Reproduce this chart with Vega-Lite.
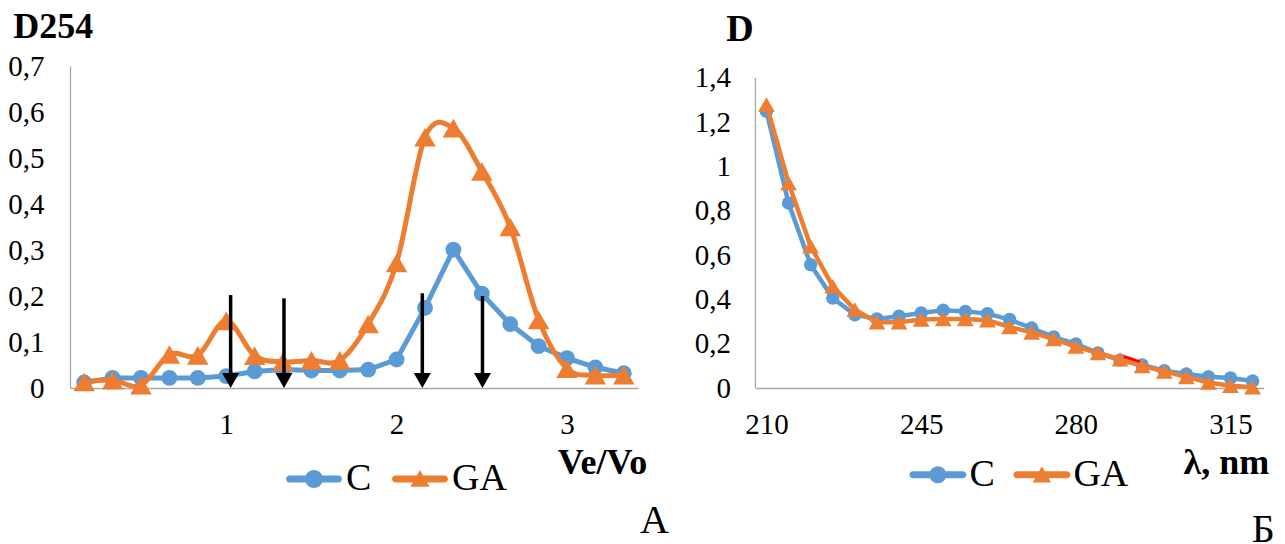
{
  "$schema": "https://vega.github.io/schema/vega-lite/v6.json",
  "background": "white",
  "padding": {"left": 7, "top": 8, "right": 0, "bottom": 0},
  "config": {
    "font": "Liberation Serif",
    "view": {"stroke": null},
    "axis": {"grid": false, "ticks": false, "tickSize": 0, "domainColor": "#A6A6A6", "domainWidth": 1.3, "labelFont": "Liberation Serif", "labelFontSize": 29, "labelColor": "#000000", "titleFont": "Liberation Serif", "titleColor": "#000000"},
    "legend": {"labelFont": "Liberation Serif", "labelColor": "#000000"}
  },
  "resolve": {"scale": {"color": "independent"}, "legend": {"color": "independent"}},
  "datasets": {
    "left": [
      {"x": 0.1667, "y": 0.012, "series": "C"}, {"x": 0.3333, "y": 0.022, "series": "C"}, {"x": 0.5, "y": 0.022, "series": "C"}, {"x": 0.6667, "y": 0.022, "series": "C"}, {"x": 0.8333, "y": 0.022, "series": "C"},
      {"x": 1.0, "y": 0.026, "series": "C"}, {"x": 1.1667, "y": 0.036, "series": "C"}, {"x": 1.3333, "y": 0.04, "series": "C"}, {"x": 1.5, "y": 0.038, "series": "C"}, {"x": 1.6667, "y": 0.038, "series": "C"},
      {"x": 1.8333, "y": 0.04, "series": "C"}, {"x": 2.0, "y": 0.062, "series": "C"}, {"x": 2.1667, "y": 0.174, "series": "C"}, {"x": 2.3333, "y": 0.301, "series": "C"}, {"x": 2.5, "y": 0.205, "series": "C"},
      {"x": 2.6667, "y": 0.139, "series": "C"}, {"x": 2.8333, "y": 0.091, "series": "C"}, {"x": 3.0, "y": 0.065, "series": "C"}, {"x": 3.1667, "y": 0.045, "series": "C"}, {"x": 3.3333, "y": 0.032, "series": "C"},
      {"x": 0.1667, "y": 0.013, "series": "GA"}, {"x": 0.3333, "y": 0.017, "series": "GA"}, {"x": 0.5, "y": 0.006, "series": "GA"}, {"x": 0.6667, "y": 0.073, "series": "GA"}, {"x": 0.8333, "y": 0.071, "series": "GA"},
      {"x": 1.0, "y": 0.146, "series": "GA"}, {"x": 1.1667, "y": 0.07, "series": "GA"}, {"x": 1.3333, "y": 0.057, "series": "GA"}, {"x": 1.5, "y": 0.06, "series": "GA"}, {"x": 1.6667, "y": 0.06, "series": "GA"},
      {"x": 1.8333, "y": 0.139, "series": "GA"}, {"x": 2.0, "y": 0.272, "series": "GA"}, {"x": 2.1667, "y": 0.545, "series": "GA"}, {"x": 2.3333, "y": 0.565, "series": "GA"}, {"x": 2.5, "y": 0.471, "series": "GA"},
      {"x": 2.6667, "y": 0.35, "series": "GA"}, {"x": 2.8333, "y": 0.148, "series": "GA"}, {"x": 3.0, "y": 0.042, "series": "GA"}, {"x": 3.1667, "y": 0.028, "series": "GA"}, {"x": 3.3333, "y": 0.028, "series": "GA"}
    ],
    "arrows": [
      {"x": 1.026, "y": 0.202},
      {"x": 1.339, "y": 0.195},
      {"x": 2.151, "y": 0.206},
      {"x": 2.504, "y": 0.2}
    ],
    "right": [
      {"x": 210, "y": 1.25, "series": "C"}, {"x": 215, "y": 0.835, "series": "C"}, {"x": 220, "y": 0.557, "series": "C"}, {"x": 225, "y": 0.406, "series": "C"}, {"x": 230, "y": 0.331, "series": "C"},
      {"x": 235, "y": 0.312, "series": "C"}, {"x": 240, "y": 0.324, "series": "C"}, {"x": 245, "y": 0.339, "series": "C"}, {"x": 250, "y": 0.351, "series": "C"}, {"x": 255, "y": 0.346, "series": "C"},
      {"x": 260, "y": 0.336, "series": "C"}, {"x": 265, "y": 0.309, "series": "C"}, {"x": 270, "y": 0.271, "series": "C"}, {"x": 275, "y": 0.23, "series": "C"}, {"x": 280, "y": 0.199, "series": "C"},
      {"x": 285, "y": 0.158, "series": "C"}, {"x": 290, "y": 0.126, "series": "C"}, {"x": 295, "y": 0.104, "series": "C"}, {"x": 300, "y": 0.078, "series": "C"}, {"x": 305, "y": 0.063, "series": "C"},
      {"x": 310, "y": 0.051, "series": "C"}, {"x": 315, "y": 0.045, "series": "C"}, {"x": 320, "y": 0.032, "series": "C"},
      {"x": 210, "y": 1.28, "series": "GA"}, {"x": 215, "y": 0.926, "series": "GA"}, {"x": 220, "y": 0.64, "series": "GA"}, {"x": 225, "y": 0.459, "series": "GA"}, {"x": 230, "y": 0.354, "series": "GA"},
      {"x": 235, "y": 0.297, "series": "GA"}, {"x": 240, "y": 0.297, "series": "GA"}, {"x": 245, "y": 0.309, "series": "GA"}, {"x": 250, "y": 0.312, "series": "GA"}, {"x": 255, "y": 0.312, "series": "GA"},
      {"x": 260, "y": 0.306, "series": "GA"}, {"x": 265, "y": 0.276, "series": "GA"}, {"x": 270, "y": 0.251, "series": "GA"}, {"x": 275, "y": 0.221, "series": "GA"}, {"x": 280, "y": 0.187, "series": "GA"},
      {"x": 285, "y": 0.158, "series": "GA"}, {"x": 290, "y": 0.13, "series": "GA"}, {"x": 295, "y": 0.099, "series": "GA"}, {"x": 300, "y": 0.075, "series": "GA"}, {"x": 305, "y": 0.05, "series": "GA"},
      {"x": 310, "y": 0.025, "series": "GA"}, {"x": 315, "y": 0.01, "series": "GA"}, {"x": 320, "y": 0.003, "series": "GA"}
    ],
    "red": [
      {"x": 290.8, "y": 0.138},
      {"x": 294.4, "y": 0.114}
    ]
  },
  "bounds": "flush",
  "spacing": 117.4,
  "hconcat": [
    {
      "width": 568,
      "height": 322,
      "title": {"text": "А", "orient": "bottom", "anchor": "end", "frame": "group", "fontSize": 40, "fontWeight": "normal", "font": "Liberation Serif", "color": "#000000", "baseline": "alphabetic", "offset": 0, "dx": 31, "dy": 35},
      "layer": [
        {
          "data": {"name": "left"},
          "transform": [{"filter": "datum.series === 'C'"}],
          "mark": {"type": "line", "strokeWidth": 5, "interpolate": "linear"},
          "encoding": {
            "x": {"field": "x", "type": "quantitative", "scale": {"domain": [0.08333, 3.41667], "nice": false, "zero": false},
              "axis": {"values": [1, 2, 3], "labelExpr": "format(datum.value, 'd')", "labelPadding": 22, "labelFlush": false, "title": "Ve/Vo", "titleX": 576.7, "titleY": 85, "titleAlign": "right", "titleAnchor": null, "titleBaseline": "alphabetic", "titleFontSize": 36, "titleFontWeight": "bold"}},
            "y": {"field": "y", "type": "quantitative", "scale": {"domain": [0, 0.7], "nice": false},
              "axis": {"values": [0, 0.1, 0.2, 0.3, 0.4, 0.5, 0.6, 0.7], "labelExpr": "datum.value == 0 ? '0' : replace(format(datum.value, '.1f'), '.', ',')", "labelPadding": 26, "title": "D254", "titleAngle": 0, "titleX": -57.3, "titleY": -29, "titleAlign": "left", "titleAnchor": null, "titleBaseline": "alphabetic", "titleFontSize": 36, "titleFontWeight": "bold"}},
            "color": {"field": "series", "type": "nominal", "scale": {"domain": ["C", "GA"], "range": ["#5B9BD5", "#ED7D31"]},
              "legend": {"orient": "none", "legendX": 216, "legendY": 385, "direction": "horizontal", "title": null, "labelFontSize": 38, "symbolSize": 3136, "labelOffset": 4, "columnPadding": 20, "padding": 0, "symbolStrokeWidth": 0,
                "encode": {"symbols": {"update": {
                  "shape": {"signal": "datum.value === 'C' ? 'M-0.875,-0.125H0.875A0.125,0.125 0 0,1 0.875,0.125H-0.875A0.125,0.125 0 0,1 -0.875,-0.125Z M0.32,0A0.32,0.32 0 1,1 -0.32,0A0.32,0.32 0 1,1 0.32,0Z' : 'M-0.875,-0.125H0.875A0.125,0.125 0 0,1 0.875,0.125H-0.875A0.125,0.125 0 0,1 -0.875,-0.125Z M0,-0.32L0.34,0.28L-0.34,0.28Z'"},
                  "fill": {"signal": "datum.value === 'C' ? '#5B9BD5' : '#ED7D31'"},
                  "stroke": {"value": "transparent"},
                  "strokeWidth": {"value": 0},
                  "opacity": {"value": 1}
                }}}}}
          }
        },
        {
          "data": {"name": "left"},
          "transform": [{"filter": "datum.series === 'C'"}],
          "mark": {"type": "point", "shape": "circle", "filled": true, "opacity": 1, "size": 250},
          "encoding": {
            "x": {"field": "x", "type": "quantitative"},
            "y": {"field": "y", "type": "quantitative"},
            "color": {"field": "series", "type": "nominal"}
          }
        },
        {
          "data": {"name": "left"},
          "transform": [{"filter": "datum.series === 'GA'"}],
          "mark": {"type": "line", "strokeWidth": 5, "interpolate": "cardinal"},
          "encoding": {
            "x": {"field": "x", "type": "quantitative"},
            "y": {"field": "y", "type": "quantitative"},
            "color": {"field": "series", "type": "nominal"}
          }
        },
        {
          "data": {"name": "left"},
          "transform": [{"filter": "datum.series === 'GA'"}],
          "mark": {"type": "point", "shape": "triangle-up", "filled": true, "opacity": 1, "size": 460},
          "encoding": {
            "x": {"field": "x", "type": "quantitative"},
            "y": {"field": "y", "type": "quantitative"},
            "color": {"field": "series", "type": "nominal"}
          }
        },
        {
          "data": {"name": "arrows"},
          "mark": {"type": "rule", "color": "#000000", "strokeWidth": 3.5},
          "encoding": {
            "x": {"field": "x", "type": "quantitative"},
            "y": {"field": "y", "type": "quantitative"},
            "y2": {"datum": 0.014}
          }
        },
        {
          "data": {"name": "arrows"},
          "mark": {"type": "point", "shape": "M-1,-1.76L1,-1.76L0,0Z", "filled": true, "color": "#000000", "opacity": 1, "size": 289},
          "encoding": {
            "x": {"field": "x", "type": "quantitative"},
            "y": {"datum": 0}
          }
        }
      ]
    },
    {
      "width": 508.3,
      "height": 322,
      "title": {"text": "Б", "orient": "bottom", "anchor": "end", "frame": "group", "fontSize": 40, "fontWeight": "normal", "font": "Liberation Serif", "color": "#000000", "baseline": "alphabetic", "offset": 0, "dx": 11, "dy": 48},
      "layer": [
        {
          "data": {"name": "right"},
          "transform": [{"filter": "datum.series === 'C'"}],
          "mark": {"type": "line", "strokeWidth": 4.5},
          "encoding": {
            "x": {"field": "x", "type": "quantitative", "scale": {"domain": [207.5, 322.5], "nice": false, "zero": false},
              "axis": {"values": [210, 245, 280, 315], "labelExpr": "format(datum.value, 'd')", "labelPadding": 22, "labelFlush": false, "title": "λ, nm", "titleX": 513.3, "titleY": 85, "titleAlign": "right", "titleAnchor": null, "titleBaseline": "alphabetic", "titleFontSize": 36, "titleFontWeight": "bold"}},
            "y": {"field": "y", "type": "quantitative", "scale": {"domain": [0, 1.45419], "nice": false},
              "axis": {"domain": false, "values": [0, 0.2, 0.4, 0.6, 0.8, 1, 1.2, 1.4], "labelExpr": "replace(format(datum.value, '~g'), '.', ',')", "labelPadding": 25, "title": "D", "titleAngle": 0, "titleX": -29.7, "titleY": -26, "titleAlign": "left", "titleAnchor": null, "titleBaseline": "alphabetic", "titleFontSize": 38, "titleFontWeight": "bold"}},
            "color": {"field": "series", "type": "nominal", "scale": {"domain": ["C", "GA"], "range": ["#5B9BD5", "#ED7D31"]},
              "legend": {"orient": "none", "legendX": 154, "legendY": 380, "direction": "horizontal", "title": null, "labelFontSize": 38, "symbolSize": 3249, "labelOffset": 3, "columnPadding": 18, "padding": 0, "symbolStrokeWidth": 0,
                "encode": {"symbols": {"update": {
                  "shape": {"signal": "datum.value === 'C' ? 'M-0.875,-0.125H0.875A0.125,0.125 0 0,1 0.875,0.125H-0.875A0.125,0.125 0 0,1 -0.875,-0.125Z M0.3,0A0.3,0.3 0 1,1 -0.3,0A0.3,0.3 0 1,1 0.3,0Z' : 'M-0.875,-0.125H0.875A0.125,0.125 0 0,1 0.875,0.125H-0.875A0.125,0.125 0 0,1 -0.875,-0.125Z M0,-0.3L0.32,0.27L-0.32,0.27Z'"},
                  "fill": {"signal": "datum.value === 'C' ? '#5B9BD5' : '#ED7D31'"},
                  "stroke": {"value": "transparent"},
                  "strokeWidth": {"value": 0},
                  "opacity": {"value": 1}
                }}}}}
          }
        },
        {
          "data": {"name": "right"},
          "transform": [{"filter": "datum.series === 'C'"}],
          "mark": {"type": "point", "shape": "circle", "filled": true, "opacity": 1, "size": 180},
          "encoding": {
            "x": {"field": "x", "type": "quantitative"},
            "y": {"field": "y", "type": "quantitative"},
            "color": {"field": "series", "type": "nominal"}
          }
        },
        {
          "data": {"name": "red"},
          "mark": {"type": "line", "strokeWidth": 5, "color": "#FF0000"},
          "encoding": {
            "x": {"field": "x", "type": "quantitative"},
            "y": {"field": "y", "type": "quantitative"}
          }
        },
        {
          "data": {"name": "right"},
          "transform": [{"filter": "datum.series === 'GA'"}],
          "mark": {"type": "line", "strokeWidth": 4.5},
          "encoding": {
            "x": {"field": "x", "type": "quantitative"},
            "y": {"field": "y", "type": "quantitative"},
            "color": {"field": "series", "type": "nominal"}
          }
        },
        {
          "data": {"name": "right"},
          "transform": [{"filter": "datum.series === 'GA'"}],
          "mark": {"type": "point", "shape": "triangle-up", "filled": true, "opacity": 1, "size": 280},
          "encoding": {
            "x": {"field": "x", "type": "quantitative"},
            "y": {"field": "y", "type": "quantitative"},
            "color": {"field": "series", "type": "nominal"}
          }
        },
        {
          "data": {"name": "right"},
          "transform": [{"filter": "datum.series === 'C' && datum.x === 210"}],
          "mark": {"type": "rule", "color": "#A6A6A6", "strokeWidth": 1.3},
          "encoding": {
            "x": {"datum": 207.5},
            "y": {"datum": 0},
            "y2": {"datum": 1.4}
          }
        }
      ]
    }
  ]
}
